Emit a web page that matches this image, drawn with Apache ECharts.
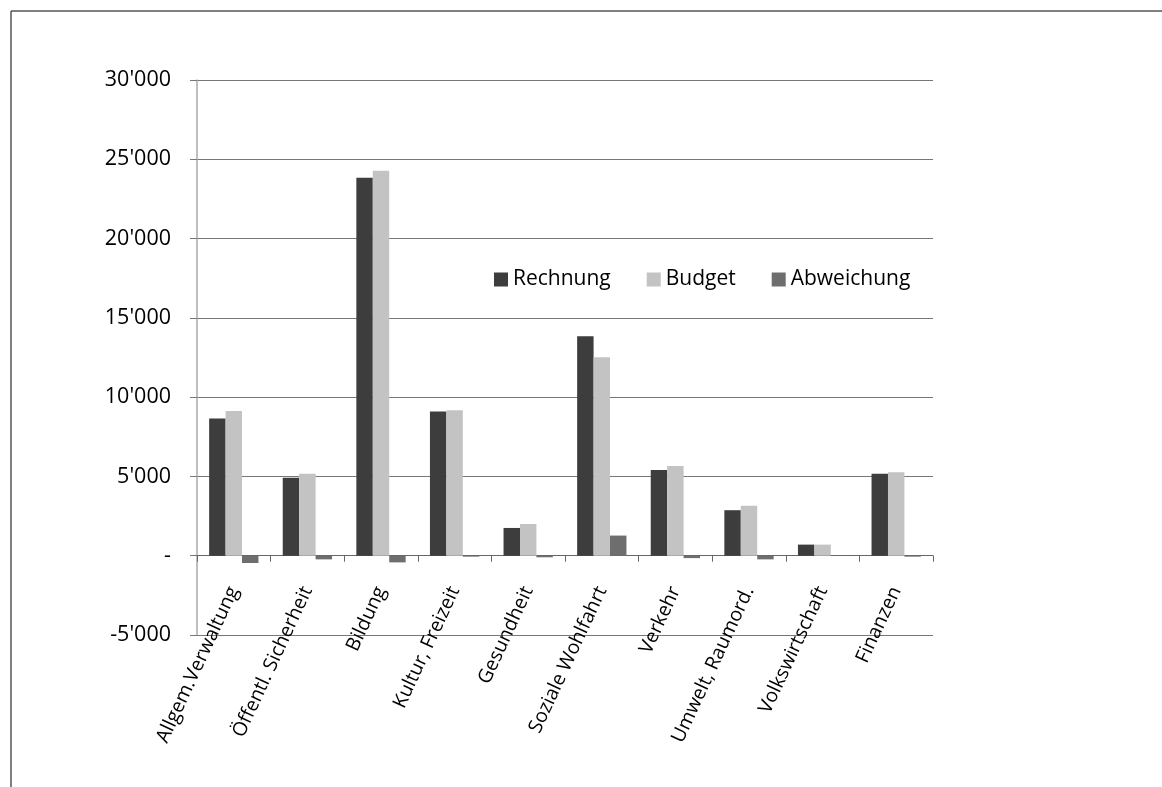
<!DOCTYPE html>
<html>
<head>
<meta charset="utf-8">
<script src="https://cdn.jsdelivr.net/npm/echarts@6/dist/echarts.min.js"></script>
<style>
html,body{margin:0;padding:0;background:#fff;}
#c{width:1162px;height:787px;}
</style>
</head>
<body>
<div id="c"></div>
<script>
var categories = ["Allgem.Verwaltung","Öffentl. Sicherheit","Bildung","Kultur, Freizeit","Gesundheit","Soziale Wohlfahrt","Verkehr","Umwelt, Raumord.","Volkswirtschaft","Finanzen"];
var rechnung   = [8650, 4920, 23840, 9090, 1750, 13840, 5400, 2870, 700, 5170];
var budget     = [9130, 5170, 24280, 9180, 2000, 12510, 5650, 3150, 700, 5270];
var abweichung = [-460, -230, -420, -60, -100, 1270, -150, -230, 20, -60];
var seriesNames = ["Rechnung","Budget","Abweichung"];
var yTicks = { min: -5000, max: 30000, interval: 5000 };

var FONT = "Open Sans";
var GRID = { left: 197, right: 229, top: 80, bottom: 152 };
var plotH = 787 - GRID.top - GRID.bottom;
// shift category axis from grid bottom up to the zero line
var zeroOffset = -plotH * (0 - yTicks.min) / (yTicks.max - yTicks.min);

function fmt(v){
  if (v === 0) return "-";
  var s = Math.abs(v).toString().replace(/\B(?=(\d{3})+(?!\d))/g, "'");
  return (v < 0 ? "-" : "") + s;
}
var chart = echarts.init(document.getElementById('c'), null, {renderer:'canvas'});
chart.setOption({
  animation: false,
  backgroundColor: '#fff',
  textStyle: { fontFamily: FONT, color: '#000' },
  graphic: [
    { type: 'line', shape: { x1: 11, y1: 11, x2: 1162, y2: 11 }, style: { stroke: '#555', lineWidth: 1.5 } },
    { type: 'line', shape: { x1: 11, y1: 11, x2: 11, y2: 787 }, style: { stroke: '#555', lineWidth: 1.5 } }
  ],
  legend: {
    data: seriesNames,
    left: 489, top: 264,
    itemWidth: 14, itemHeight: 14, itemGap: 36,
    icon: 'rect',
    textStyle: { fontFamily: FONT, fontSize: 21, color: '#000' }
  },
  grid: { left: GRID.left, right: GRID.right, top: GRID.top, bottom: GRID.bottom, containLabel: false, outerBoundsMode: 'none' },
  xAxis: {
    type: 'category',
    data: categories,
    offset: zeroOffset,
    axisLine: { onZero: false, lineStyle: { color: '#666', width: 1 } },
    axisTick: { show: true, length: 6, lineStyle: { color: '#666' } },
    axisLabel: {
      rotate: 65, interval: 0, margin: 32,
      fontFamily: FONT, fontSize: 19.5, color: '#000'
    },
    splitLine: { show: false }
  },
  yAxis: {
    type: 'value',
    min: yTicks.min, max: yTicks.max, interval: yTicks.interval,
    axisLine: { show: true, lineStyle: { color: '#aaa', width: 1.5 } },
    axisTick: { show: true, length: 7, lineStyle: { color: '#777' } },
    axisLabel: { formatter: fmt, margin: 26, fontFamily: FONT, fontSize: 21.5, color: '#000' },
    splitLine: { show: true, lineStyle: { color: '#777', width: 1 } }
  },
  series: [
    { name: seriesNames[0], type: 'bar', data: rechnung, barGap: '0%', barCategoryGap: '33%',
      itemStyle: { color: '#3d3d3d' } },
    { name: seriesNames[1], type: 'bar', data: budget, barGap: '0%', barCategoryGap: '33%',
      itemStyle: { color: '#c3c3c3' } },
    { name: seriesNames[2], type: 'bar', data: abweichung, barGap: '0%', barCategoryGap: '33%',
      itemStyle: { color: '#6e6e6e' } }
  ]
});
</script>
</body>
</html>
